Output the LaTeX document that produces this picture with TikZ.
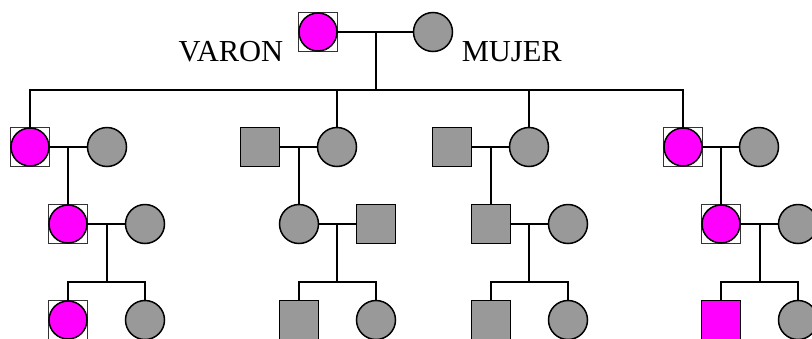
\documentclass[tikz,border=0pt]{standalone}
\usepackage{fontspec}
\setmainfont{Liberation Serif}
\definecolor{pgray}{HTML}{999999}
\definecolor{pmag}{HTML}{FF00FF}
\begin{document}
\begin{tikzpicture}[x=1pt,y=-1pt,
  line width=1.5pt,
  male/.style={rectangle,draw=black,fill=pgray,minimum size=39pt,inner sep=0pt,outer sep=0pt},
  female/.style={circle,draw=black,fill=pgray,minimum size=39pt,inner sep=0pt,outer sep=0pt},
  magsq/.style={rectangle,draw=black,fill=pmag,minimum size=39pt,inner sep=0pt,outer sep=0pt},
  affbox/.style={rectangle,draw=black!80,line width=1pt,fill=white,minimum size=39pt,inner sep=0pt,outer sep=0pt},
  affdot/.style={circle,draw=black,fill=pmag,minimum size=38pt,inner sep=0pt,outer sep=0pt},
  lbl/.style={font=\fontsize{30.5}{33}\selectfont,inner sep=0pt}]
\useasboundingbox (0,0) rectangle (812,338);
\clip (0,0) rectangle (812,338);
\fill[white] (0,0) rectangle (812,338);

% generation 1
\node[affbox] (V0) at (318,32) {};
\node[affdot] (V0c) at (V0) {};
\node[female] (M0) at (433,32) {};
\node[lbl,anchor=base east] (tv) at (284,61.5) {VARON};
\node[lbl,anchor=base west] (tm) at (461,61.5) {MUJER};
\coordinate (j0) at (376,32);
\coordinate (s0) at (376,90);

% generation 2
\node[affbox] (A1) at (30,147) {};
\node[affdot] (A1c) at (A1) {};
\node[female] (A1w) at (107,147) {};
\node[male] (B1h) at (260,147) {};
\node[female] (B1) at (337,147) {};
\node[male] (C1h) at (452,147) {};
\node[female] (C1) at (529,147) {};
\node[affbox] (D1) at (683,147) {};
\node[affdot] (D1c) at (D1) {};
\node[female] (D1w) at (759,147) {};

% generation 3
\node[affbox] (A2) at (68,224) {};
\node[affdot] (A2c) at (A2) {};
\node[female] (A2w) at (145,224) {};
\node[female] (B2) at (299,224) {};
\node[male] (B2h) at (376,224) {};
\node[male] (C2) at (491,224) {};
\node[female] (C2w) at (568,224) {};
\node[affbox] (D2) at (721,224) {};
\node[affdot] (D2c) at (D2) {};
\node[female] (D2w) at (798,224) {};

% generation 4
\node[affbox] (A3) at (68,320) {};
\node[affdot] (A3c) at (A3) {};
\node[female] (A3s) at (145,320) {};
\node[male] (B3) at (299,320) {};
\node[female] (B3s) at (376,320) {};
\node[male] (C3) at (491,320) {};
\node[female] (C3s) at (568,320) {};
\node[magsq] (D3) at (721,320) {};
\node[female] (D3s) at (798,320) {};

% gen 1 connectors
\draw (V0c.east) -- (M0.west);
\draw (j0) -- (s0);
\draw (A1.north) -- (A1.north |- s0) -- (D1.north |- s0) -- (D1.north);
\draw (B1.north) -- (B1.north |- s0);
\draw (C1.north) -- (C1.north |- s0);

% gen 2 marriages and descent
\draw (A1c.east) -- (A1w.west);
\draw (A2.north |- A1.east) -- (A2.north);
\draw (B1h.east) -- (B1.west);
\draw (B2.north |- B1.west) -- (B2.north);
\draw (C1h.east) -- (C1.west);
\draw (C2.north |- C1.west) -- (C2.north);
\draw (D1c.east) -- (D1w.west);
\draw (D2.north |- D1.east) -- (D2.north);

% gen 3 marriages and sibships
\coordinate (ja) at (107,224);
\coordinate (jb) at (337,224);
\coordinate (jc) at (529,224);
\coordinate (jd) at (760,224);
\draw (A2c.east) -- (A2w.west);
\draw (ja) -- (ja |- 0,282);
\draw (A3.north) -- (A3.north |- 0,282) -- (A3s.north |- 0,282) -- (A3s.north);
\draw (B2.east) -- (B2h.west);
\draw (jb) -- (jb |- 0,282);
\draw (B3.north) -- (B3.north |- 0,282) -- (B3s.north |- 0,282) -- (B3s.north);
\draw (C2.east) -- (C2w.west);
\draw (jc) -- (jc |- 0,282);
\draw (C3.north) -- (C3.north |- 0,282) -- (C3s.north |- 0,282) -- (C3s.north);
\draw (D2c.east) -- (D2w.west);
\draw (jd) -- (jd |- 0,282);
\draw (D3.north) -- (D3.north |- 0,282) -- (D3s.north |- 0,282) -- (D3s.north);
\end{tikzpicture}
\end{document}
